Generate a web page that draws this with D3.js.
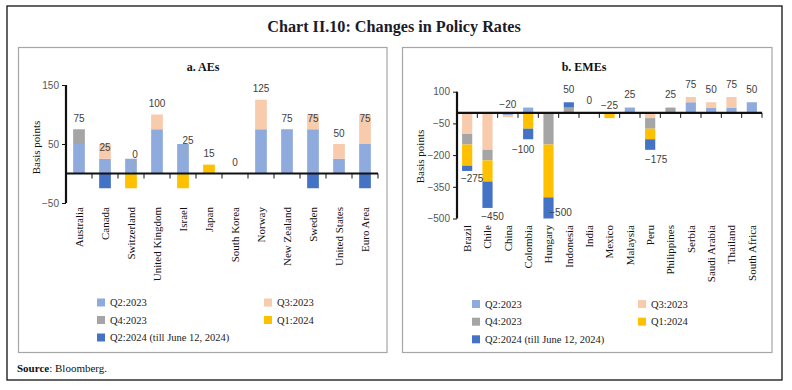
<!DOCTYPE html>
<html><head><meta charset="utf-8">
<script src="https://cdn.jsdelivr.net/npm/d3@7"></script>
<style>body{margin:0;background:#fff} svg{display:block}</style>
</head><body>
<svg id="c" width="792" height="390"></svg>
<script>
// ---------- DATA ----------
const seriesNames = ["Q2:2023", "Q3:2023", "Q4:2023", "Q1:2024", "Q2:2024 (till June 12, 2024)"];

const aeCategories = ["Australia", "Canada", "Switzerland", "United Kingdom", "Israel", "Japan",
  "South Korea", "Norway", "New Zealand", "Sweden", "United States", "Euro Area"];
const aeQ2_2023 = [50, 25, 25, 75, 50, 0, 0, 75, 75, 75, 25, 50];
const aeQ3_2023 = [0, 25, 0, 25, 0, 0, 0, 50, 0, 25, 25, 50];
const aeQ4_2023 = [25, 0, 0, 0, 0, 0, 0, 0, 0, 0, 0, 0];
const aeQ1_2024 = [0, 0, -25, 0, -25, 15, 0, 0, 0, 0, 0, 0];
const aeQ2_2024 = [0, -25, 0, 0, 0, 0, 0, 0, 0, -25, 0, -25];
const aeTotals = [75, 25, 0, 100, 25, 15, 0, 125, 75, 75, 50, 75];
const aeTicks = [150, 50, -50];

const emeCategories = ["Brazil", "Chile", "China", "Colombia", "Hungary", "Indonesia", "India",
  "Mexico", "Malaysia", "Peru", "Philippines", "Serbia", "Saudi Arabia", "Thailand", "South Africa"];
const emeQ2_2023 = [0, 0, -10, 25, 0, 0, 0, 0, 25, 0, 0, 50, 25, 25, 50];
const emeQ3_2023 = [-100, -175, -10, 0, 0, 0, 0, 0, 0, -25, 0, 25, 25, 50, 0];
const emeQ4_2023 = [-50, -50, 0, 0, -150, 25, 0, 0, 0, -50, 25, 0, 0, 0, 0];
const emeQ1_2024 = [-100, -100, 0, -75, -250, 0, 0, -25, 0, -50, 0, 0, 0, 0, 0];
const emeQ2_2024 = [-25, -125, 0, -50, -100, 25, 0, 0, 0, -50, 0, 0, 0, 0, 0];
const emeTotals = [-275, -450, -20, -100, -500, 50, 0, -25, 25, -175, 25, 75, 50, 75, 50];
const emeTicks = [100, -50, -200, -350, -500];

// ---------- STYLE ----------
const colors = ["#8FAADC", "#F8CBAD", "#A5A5A5", "#FFC000", "#4472C4"];
const SERIF = "'Liberation Serif', 'DejaVu Serif', serif";
const SANS = "'Liberation Sans', Arial, sans-serif";

const svg = d3.select("#c");

// outer frame
svg.append("rect").attr("x", 7).attr("y", 6).attr("width", 775).attr("height", 374)
  .attr("fill", "none").attr("stroke", "#111").attr("stroke-width", 1.3);

svg.append("text").attr("x", 394).attr("y", 27).attr("text-anchor", "middle")
  .attr("dominant-baseline", "central")
  .attr("font-family", SERIF).attr("font-weight", "bold").attr("font-size", 16.2)
  .attr("fill", "#1b1b2a").text("Chart II.10: Changes in Policy Rates");

const src = svg.append("text").attr("x", 17).attr("y", 372)
  .attr("font-family", SERIF).attr("font-size", 11).attr("fill", "#111");
src.append("tspan").attr("font-weight", "bold").text("Source");
src.append("tspan").text(": Bloomberg.");

function panel(cfg) {
  const g = svg.append("g");
  g.append("rect").attr("x", cfg.box[0]).attr("y", cfg.box[1])
    .attr("width", cfg.box[2]).attr("height", cfg.box[3])
    .attr("fill", "#fff").attr("stroke", "#a6a6a6").attr("stroke-width", 1.2);

  g.append("text").attr("x", cfg.titleX).attr("y", 67).attr("text-anchor", "middle")
    .attr("dominant-baseline", "central").attr("font-family", SERIF)
    .attr("font-weight", "bold").attr("font-size", 12).attr("fill", "#111").text(cfg.title);

  const x = d3.scaleBand().domain(cfg.categories).range(cfg.xRange)
    .paddingInner(cfg.pad).paddingOuter(cfg.pad / 2);
  const y = d3.scaleLinear().domain(cfg.domain).range(cfg.yRange);

  const keys = ["s0", "s1", "s2", "s3", "s4"];
  const rows = cfg.categories.map((c, i) => {
    const r = { cat: c };
    cfg.series.forEach((s, k) => r[keys[k]] = s[i]);
    return r;
  });
  const stacked = d3.stack().keys(keys).offset(d3.stackOffsetDiverging)(rows);

  g.selectAll("g.ser").data(stacked).join("g").attr("fill", (d, i) => colors[i])
    .selectAll("rect").data(d => d.filter(p => p[1] !== p[0])).join("rect")
    .attr("x", d => x(d.data.cat))
    .attr("width", x.bandwidth())
    .attr("y", d => y(Math.max(d[0], d[1])))
    .attr("height", d => Math.abs(y(d[0]) - y(d[1])));

  // y axis
  const yAxis = d3.axisLeft(y).tickValues(cfg.ticks).tickSize(4).tickPadding(3)
    .tickFormat(d3.format("d"));
  const ya = g.append("g").attr("transform", `translate(${cfg.xRange[0]},0)`).call(yAxis);
  ya.select(".domain").attr("stroke", "#111").attr("stroke-width", 2.2)
    .attr("d", `M0,${cfg.yRange[1]}V${cfg.yRange[0]}`);
  ya.selectAll(".tick line").attr("stroke", "#111").attr("stroke-width", 1);
  ya.selectAll(".tick text").attr("font-family", SANS).attr("font-size", 10).attr("fill", "#555");

  // x axis line at zero
  const y0 = y(0);
  g.append("line").attr("x1", cfg.xRange[0]).attr("x2", cfg.xRange[1])
    .attr("y1", y0).attr("y2", y0).attr("stroke", "#111").attr("stroke-width", 2.2);
  const step = x.step();
  d3.range(1, cfg.categories.length + 1).forEach(i => {
    const xx = cfg.xRange[0] + i * step;
    g.append("line").attr("x1", xx).attr("x2", xx).attr("y1", y0).attr("y2", y0 + 5)
      .attr("stroke", "#111").attr("stroke-width", 1);
  });

  // category labels
  cfg.categories.forEach(c => {
    const cx = x(c) + x.bandwidth() / 2;
    g.append("text")
      .attr("transform", `translate(${cx},${cfg.catLabelY}) rotate(-90)`)
      .attr("text-anchor", "end").attr("dy", "0.35em")
      .attr("font-family", SERIF).attr("font-size", 11).attr("fill", "#111").text(c);
  });

  // axis title
  g.append("text")
    .attr("transform", `translate(${cfg.axisTitleX},${cfg.axisTitleY}) rotate(-90)`)
    .attr("text-anchor", "middle").attr("dominant-baseline", "central")
    .attr("font-family", SERIF).attr("font-size", 11).attr("fill", "#111").text("Basis points");

  // data labels
  cfg.categories.forEach((c, i) => {
    const t = cfg.totals[i];
    const cx = x(c) + x.bandwidth() / 2;
    const py = y(t);
    const n = cfg.nudge[c] || { dx: 0, dy: t < -50 && cfg.belowBig ? 10 : cfg.labelDy };
    if (n.leader) {
      g.append("line").attr("x1", cx).attr("y1", py - 1).attr("x2", cx + n.dx).attr("y2", py + n.dy + 6)
        .attr("stroke", "#a6a6a6").attr("stroke-width", 1);
    }
    g.append("text").attr("x", cx + n.dx).attr("y", py + n.dy)
      .attr("text-anchor", "middle").attr("dominant-baseline", "central")
      .attr("font-family", SANS).attr("font-size", 10).attr("fill", "#404040").text(d3.format("d")(t));
  });

  // legend
  const L = cfg.legend;
  const pos = [[0, 0], [1, 0], [0, 1], [1, 1], [0, 2]];
  seriesNames.forEach((name, i) => {
    const lx = L.cols[pos[i][0]], ly = L.rows[pos[i][1]];
    g.append("rect").attr("x", lx).attr("y", ly - 4).attr("width", 8).attr("height", 8)
      .attr("fill", colors[i]);
    g.append("text").attr("x", lx + 13).attr("y", ly).attr("dominant-baseline", "central")
      .attr("font-family", SERIF).attr("font-size", 10.5).attr("fill", "#222").text(name);
  });
}

panel({
  box: [18.5, 47.5, 368.5, 305],
  title: "a. AEs", titleX: 203,
  categories: aeCategories,
  series: [aeQ2_2023, aeQ3_2023, aeQ4_2023, aeQ1_2024, aeQ2_2024],
  totals: aeTotals, ticks: aeTicks,
  domain: [-50, 150], yRange: [203, 85], xRange: [66, 378], pad: 0.55,
  catLabelY: 207, axisTitleX: 36, axisTitleY: 147.5,
  labelDy: -11, belowBig: false,
  nudge: { "Switzerland": { dx: 4, dy: -19.5, leader: true }, "Israel": { dx: 5, dy: -18, leader: true } },
  legend: { cols: [97, 264], rows: [302.5, 320, 337.5] }
});

panel({
  box: [402.5, 47.5, 369.5, 305],
  title: "b. EMEs", titleX: 584,
  categories: emeCategories,
  series: [emeQ2_2023, emeQ3_2023, emeQ4_2023, emeQ1_2024, emeQ2_2024],
  totals: emeTotals, ticks: emeTicks,
  domain: [-500, 100], yRange: [218.5, 91.7], xRange: [457, 762], pad: 0.5,
  catLabelY: 225, axisTitleX: 420, axisTitleY: 156.5,
  labelDy: -12.7, belowBig: true,
  nudge: {
    "Brazil": { dx: 5, dy: 8 }, "Chile": { dx: 5, dy: 8.5 }, "Colombia": { dx: -5, dy: 16 },
    "Hungary": { dx: 12, dy: -6 }, "Peru": { dx: 6, dy: 9.5 }
  },
  legend: { cols: [472, 638], rows: [304, 321.7, 339.3] }
});
</script>
</body></html>
